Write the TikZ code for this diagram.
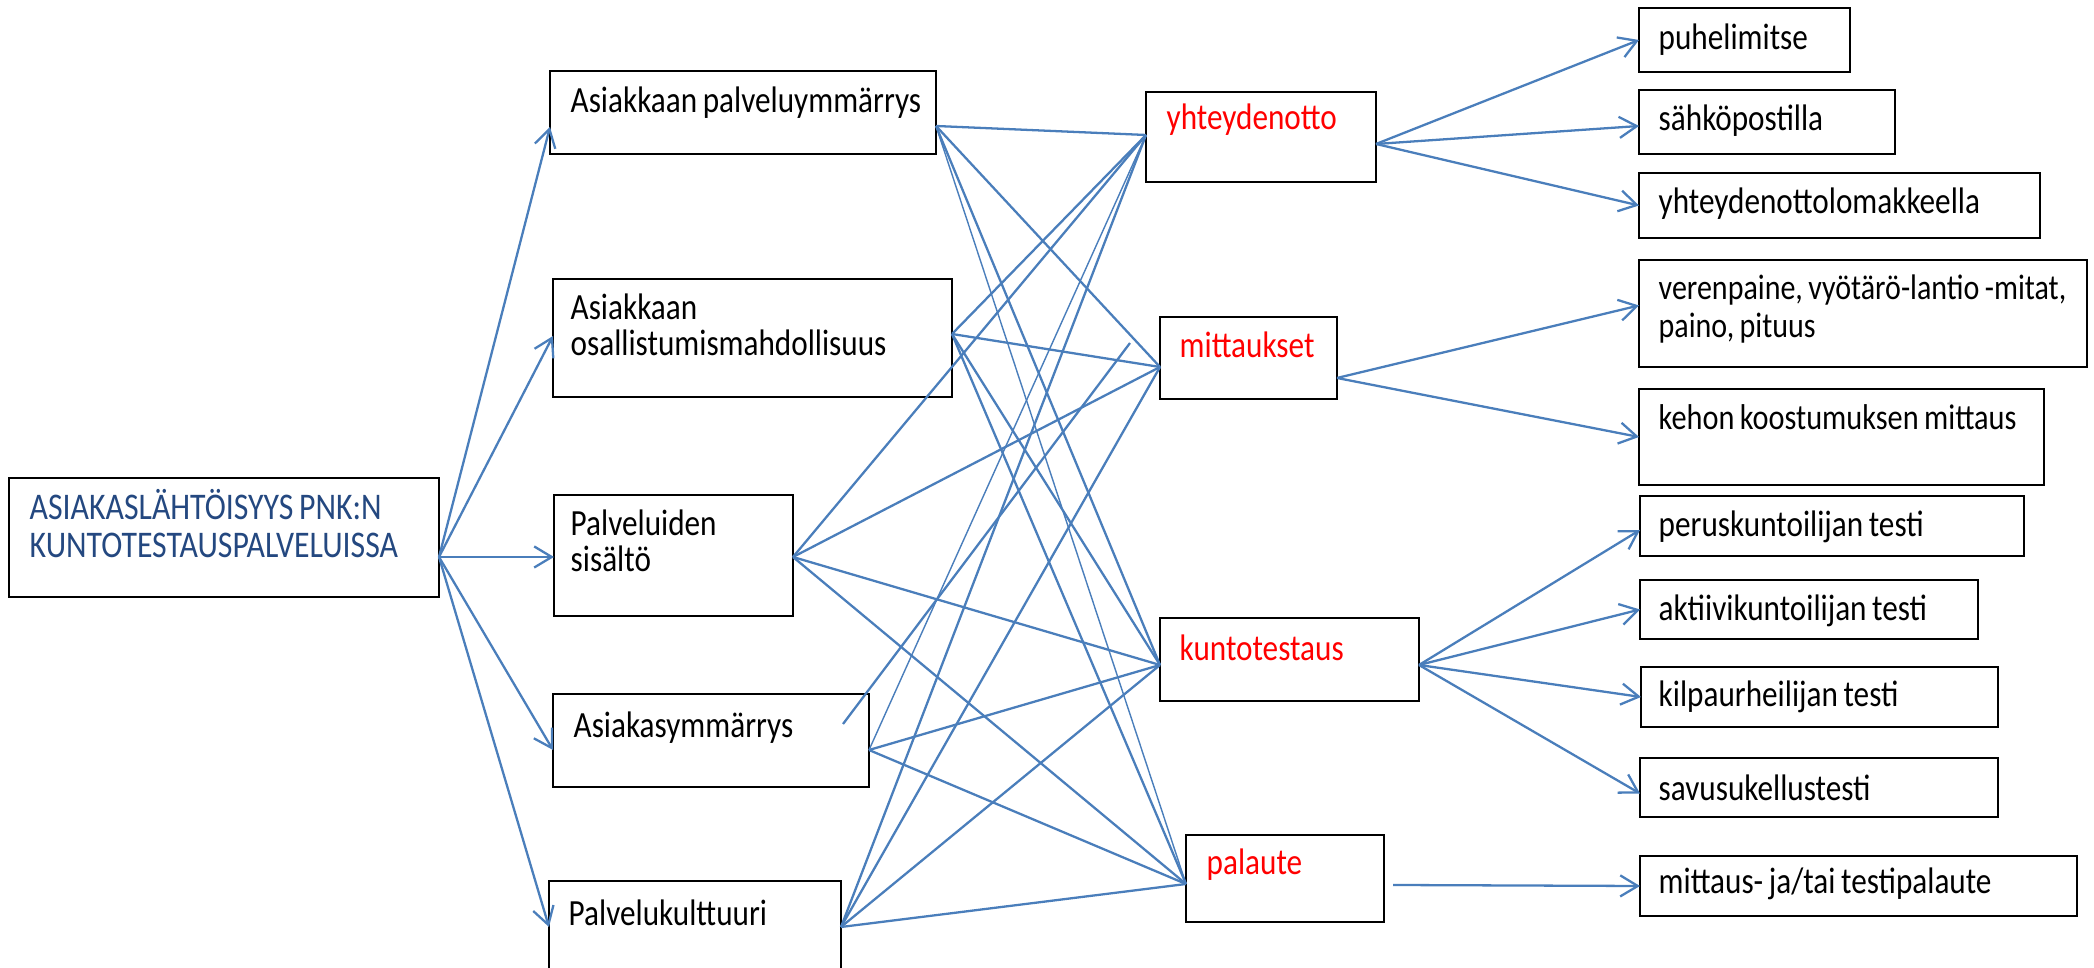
\documentclass[tikz,border=0pt]{standalone}
\usepackage{fontspec}
\setmainfont{Carlito}[FakeStretch=0.845,WordSpace=0.8]
\usetikzlibrary{arrows.meta}
\definecolor{lnblue}{RGB}{74,126,187}
\definecolor{rootblue}{RGB}{36,72,128}
\definecolor{txtred}{RGB}{255,0,0}
\newcommand\mkbox[5]{\node[box, minimum width={(#4-#2)*0.01cm}, minimum height={(#5-#3)*0.01cm}] (#1) at ({(#2+#4)/2},{(#3+#5)/2}) {};}
\begin{document}
\begin{tikzpicture}[x=0.01cm,y=-0.01cm,
 box/.style={draw=black, line width=0.8pt, inner sep=0pt, outer sep=0pt, rectangle},
 lbl/.style={anchor=west, inner sep=0pt, align=left, font=\fontsize{10.5}{10.4}\selectfont},
 link/.style={draw=lnblue, line width=0.65pt},
 thinlink/.style={draw=lnblue, line width=0.4pt},
 arr/.style={link, -{Straight Barb[length=5pt,width=6pt]}},
]
\useasboundingbox (0,0) rectangle (2094,968);
% boxes
\mkbox{R}{9}{478}{439}{597}
\mkbox{L1}{550}{71}{936}{154}
\mkbox{L2}{553}{279}{952}{397}
\mkbox{L3}{554}{495}{793}{616}
\mkbox{L4}{553}{694}{869}{787}
\mkbox{L5}{549}{881}{841}{995}
\mkbox{M1}{1146}{92}{1376}{182}
\mkbox{M2}{1160}{317}{1337}{399}
\mkbox{M3}{1160}{618}{1419}{701}
\mkbox{M4}{1186}{835}{1384}{922}
\mkbox{P1}{1639}{8}{1850}{72}
\mkbox{P2}{1639}{90}{1895}{154}
\mkbox{P3}{1639}{173}{2040}{238}
\mkbox{P4}{1639}{260}{2087}{367}
\mkbox{P5}{1639}{389}{2044}{485}
\mkbox{P6}{1640}{496}{2024}{556}
\mkbox{P7}{1640}{580}{1978}{639}
\mkbox{P8}{1641}{667}{1998}{727}
\mkbox{P9}{1640}{758}{1998}{817}
\mkbox{P10}{1640}{856}{2077}{916}
% texts
\node[lbl, text=rootblue, font=\fontsize{10.7}{10.8}\selectfont] (Rt) at (29,524) {ASIAKASLÄHTÖISYYS PNK:N\\KUNTOTESTAUSPALVELUISSA};
\node[lbl] (L1t) at (570,103) {Asiakkaan palveluymmärrys};
\node[lbl] (L2t) at (570,325) {Asiakkaan\\osallistumismahdollisuus};
\node[lbl] (L3t) at (570,541) {Palveluiden\\sisältö};
\node[lbl] (L4t) at (573,728) {Asiakasymmärrys};
\node[lbl] (L5t) at (568,913) {Palvelukulttuuri};
\node[lbl, text=txtred] (M1t) at (1166,120) {yhteydenotto};
\node[lbl, text=txtred] (M2t) at (1179,345) {mittaukset};
\node[lbl, text=txtred] (M3t) at (1179,648) {kuntotestaus};
\node[lbl, text=txtred] (M4t) at (1206,865) {palaute};
\node[lbl] (P1t) at (1658,40) {puhelimitse};
\node[lbl] (P2t) at (1658,121) {sähköpostilla};
\node[lbl] (P3t) at (1658,204) {yhteydenottolomakkeella};
\node[lbl, font=\fontsize{10.1}{10.6}\selectfont] (P4t) at (1658,309) {verenpaine, vyötärö-lantio -mitat,\\paino, pituus};
\node[lbl, font=\fontsize{10.2}{10.4}\selectfont] (P5t) at (1658,417) {kehon koostumuksen mittaus};
\node[lbl] (P6t) at (1658,527) {peruskuntoilijan testi};
\node[lbl] (P7t) at (1658,611) {aktiivikuntoilijan testi};
\node[lbl] (P8t) at (1658,697) {kilpaurheilijan testi};
\node[lbl] (P9t) at (1658,788) {savusukellustesti};
\node[lbl] (P10t) at (1658,884) {mittaus- ja/tai testipalaute};
% connection points
\coordinate (Ro) at (R.east |- 0,557);
\coordinate (L1i) at (L1.west |- 0,127);
\coordinate (L2i) at (L2.west |- 0,336);
\coordinate (L3i) at (L3.west |- 0,557);
\coordinate (L4i) at (L4.west |- 0,750);
\coordinate (L5i) at (L5.west |- 0,927);
\coordinate (L1o) at (L1.east |- 0,126);
\coordinate (L2o) at (L2.east |- 0,334);
\coordinate (L3o) at (L3.east |- 0,557);
\coordinate (L4o) at (L4.east |- 0,750);
\coordinate (L5o) at (L5.east |- 0,927);
\coordinate (M1i) at (M1.west |- 0,135);
\coordinate (M2i) at (M2.west |- 0,367);
\coordinate (M3i) at (M3.west |- 0,665);
\coordinate (M4i) at (M4.west |- 0,884);
\coordinate (M1o) at (M1.east |- 0,144);
\coordinate (M2o) at (M2.east |- 0,378);
\coordinate (M3o) at (M3.east |- 0,665);
\coordinate (M4o) at (1393,885);
\coordinate (SA) at (843,724);
\coordinate (SB) at (1130,343);
% root arrows
\foreach \t in {L1i,L2i,L3i,L4i,L5i} \draw[arr] (Ro) -- (\t);
% middle links
\draw[link] (L1o) -- (M1i);
\draw[link] (L2o) -- (M1i);
\draw[link] (L3o) -- (M1i);
\draw[thinlink] (L4o) -- (M1i);
\draw[link] (L5o) -- (M1i);
\draw[link] (L1o) -- (M2i);
\draw[link] (L2o) -- (M2i);
\draw[link] (L3o) -- (M2i);
\draw[link] (L5o) -- (M2i);
\draw[link] (SA) -- (SB);
\draw[link] (L1o) -- (M3i);
\draw[link] (L2o) -- (M3i);
\draw[link] (L3o) -- (M3i);
\draw[link] (L4o) -- (M3i);
\draw[link] (L5o) -- (M3i);
\draw[thinlink] (L1o) -- (M4i);
\draw[link] (L2o) -- (M4i);
\draw[link] (L3o) -- (M4i);
\draw[link] (L4o) -- (M4i);
\draw[link] (L5o) -- (M4i);
% right arrows
\draw[arr] (M1o) -- (P1.west);
\draw[arr] (M1o) -- ([yshift=-0.04cm]P2.west);
\draw[arr] (M1o) -- (P3.west);
\draw[arr] (M2o) -- ([yshift=0.08cm]P4.west);
\draw[arr] (M2o) -- (P5.west);
\draw[arr] (M3o) -- ([yshift=-0.04cm]P6.west);
\draw[arr] (M3o) -- (P7.west);
\draw[arr] (M3o) -- (P8.west);
\draw[arr] (M3o) -- ([yshift=-0.06cm]P9.west);
\draw[arr] (M4o) -- (P10.west);
\end{tikzpicture}
\end{document}
